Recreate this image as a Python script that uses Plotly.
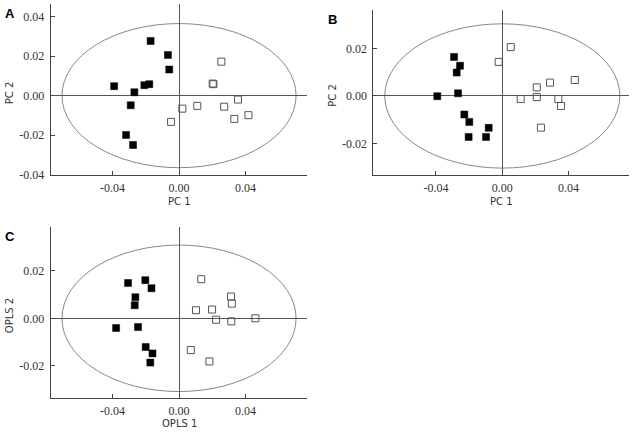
import plotly.graph_objects as go

# ---------------- data ----------------
# Panel A (PCA)
a_filled_x = [-0.0171, -0.0067, -0.0059, -0.0391, -0.0269, -0.0209, -0.0179, -0.0291, -0.0319, -0.0277]
a_filled_y = [0.0277, 0.0206, 0.0132, 0.0048, 0.0017, 0.0053, 0.0058, -0.0049, -0.0199, -0.0250]
a_open_x = [0.0255, 0.0203, 0.0207, 0.0355, 0.0020, 0.0110, 0.0272, -0.0048, 0.0333, 0.0418]
a_open_y = [0.0172, 0.0061, 0.0058, -0.0020, -0.0066, -0.0052, -0.0056, -0.0133, -0.0118, -0.0099]
a_ellipse = (0.0705, 0.0365)

# Panel B (PCA)
b_filled_x = [-0.0291, -0.0255, -0.0275, -0.0392, -0.0267, -0.0229, -0.0199, -0.0203, -0.0098, -0.0082]
b_filled_y = [0.0164, 0.0127, 0.0098, -0.0001, 0.0011, -0.0078, -0.0109, -0.0172, -0.0172, -0.0134]
b_open_x = [0.0051, -0.0022, 0.0208, 0.0288, 0.0437, 0.0111, 0.0208, 0.0338, 0.0354, 0.0233]
b_open_y = [0.0205, 0.0143, 0.0036, 0.0056, 0.0067, -0.0013, -0.0005, -0.0013, -0.0042, -0.0133]
b_ellipse = (0.0709, 0.0303)

# Panel C (OPLS)
c_filled_x = [-0.0307, -0.0203, -0.0166, -0.0263, -0.0267, -0.0379, -0.0247, -0.0201, -0.0160, -0.0173]
c_filled_y = [0.0149, 0.0161, 0.0127, 0.0089, 0.0055, -0.0041, -0.0037, -0.0121, -0.0148, -0.0187]
c_open_x = [0.0134, 0.0102, 0.0199, 0.0313, 0.0318, 0.0223, 0.0315, 0.0460, 0.0071, 0.0183]
c_open_y = [0.0165, 0.0034, 0.0037, 0.0092, 0.0062, -0.0006, -0.0013, 0.0000, -0.0134, -0.0182]
c_ellipse = (0.0705, 0.0309)

x_tick_vals = [-0.04, 0.0, 0.04]
x_tick_text = ["-0.04", "0.00", "0.04"]
a_y_tick_vals = [-0.04, -0.02, 0.0, 0.02, 0.04]
a_y_tick_text = ["-0.04", "-0.02", "0.00", "0.02", "0.04"]
bc_y_tick_vals = [-0.02, 0.0, 0.02]
bc_y_tick_text = ["-0.02", "0.00", "0.02"]

panel_labels = ["A", "B", "C"]
x_titles = ["PC 1", "PC 1", "OPLS 1"]
y_titles = ["PC 2", "PC 2", "OPLS 2"]

# ---------------- figure ----------------
W, H = 637, 433
fig = go.Figure()

panels = [
    dict(fx=a_filled_x, fy=a_filled_y, ox=a_open_x, oy=a_open_y, ell=a_ellipse,
         xr=[-0.0773, 0.0769], yr=[-0.0402, 0.0464], yt=(a_y_tick_vals, a_y_tick_text),
         xd=[50.7, 306.7], yd=[4, 175]),
    dict(fx=b_filled_x, fy=b_filled_y, ox=b_open_x, oy=b_open_y, ell=b_ellipse,
         xr=[-0.0778, 0.0766], yr=[-0.0332, 0.0361], yt=(bc_y_tick_vals, bc_y_tick_text),
         xd=[373.3, 629.3], yd=[10, 175]),
    dict(fx=c_filled_x, fy=c_filled_y, ox=c_open_x, oy=c_open_y, ell=c_ellipse,
         xr=[-0.0773, 0.0769], yr=[-0.0335, 0.0384], yt=(bc_y_tick_vals, bc_y_tick_text),
         xd=[50.7, 306.7], yd=[227.3, 397.7]),
]

tick_font = dict(family="Liberation Serif", size=12, color="#333333")
title_font = dict(family="DejaVu Sans", size=10, color="#333333")
axis_color = "#444444"

shapes = []
annotations = []
for i, p in enumerate(panels):
    n = "" if i == 0 else str(i + 1)
    xa, ya = "x" + n, "y" + n
    fig.add_trace(go.Scatter(x=p["fx"], y=p["fy"], mode="markers", xaxis=xa, yaxis=ya,
                             marker=dict(symbol="square", size=7, color="black",
                                         line=dict(color="black", width=0.5)),
                             showlegend=False, hoverinfo="skip"))
    fig.add_trace(go.Scatter(x=p["ox"], y=p["oy"], mode="markers", xaxis=xa, yaxis=ya,
                             marker=dict(symbol="square-open", size=7, color="#555555",
                                         line=dict(width=1)),
                             showlegend=False, hoverinfo="skip"))
    ax, ay = p["ell"]
    shapes.append(dict(type="circle", xref=xa, yref=ya, x0=-ax, x1=ax, y0=-ay, y1=ay,
                       line=dict(color="#888888", width=1), layer="below"))
    xdom = [p["xd"][0] / W, p["xd"][1] / W]
    ydom = [1 - p["yd"][1] / H, 1 - p["yd"][0] / H]
    common = dict(showgrid=False, showline=True, linecolor=axis_color, linewidth=1,
                  ticks="inside", ticklen=4, tickcolor=axis_color, tickfont=tick_font,
                  zeroline=True, zerolinecolor="#555555", zerolinewidth=1, mirror=False,
                  automargin=False)
    fig.layout["xaxis" + n] = dict(domain=xdom, range=p["xr"], anchor=ya,
                                   tickmode="array", tickvals=x_tick_vals, ticktext=x_tick_text,
                                   ticklabelstandoff=2, **common)
    fig.layout["yaxis" + n] = dict(domain=ydom, range=p["yr"], anchor=xa,
                                   tickmode="array", tickvals=p["yt"][0], ticktext=p["yt"][1],
                                   ticklabelstandoff=3, **common)
    # panel letter
    annotations.append(dict(text="<b>%s</b>" % panel_labels[i], xref="paper", yref="paper",
                            x=(p["xd"][0] - 41) / W, y=1 - (p["yd"][0] + 9.5) / H,
                            showarrow=False, xanchor="center", yanchor="middle",
                            font=dict(family="Liberation Sans", size=13, color="black")))
    # axis titles
    annotations.append(dict(text=x_titles[i], xref="paper", yref="paper",
                            x=(p["xd"][0] + 128.5) / W, y=1 - (p["yd"][1] + 26) / H,
                            showarrow=False, xanchor="center", yanchor="middle",
                            font=title_font))
    annotations.append(dict(text=y_titles[i], xref="paper", yref="paper",
                            x=(p["xd"][0] - 41) / W, y=1 - ((p["yd"][0] + p["yd"][1]) / 2 + 3) / H,
                            showarrow=False, xanchor="center", yanchor="middle", textangle=-90,
                            font=title_font))

fig.update_layout(width=W, height=H, margin=dict(l=0, r=0, t=0, b=0),
                  paper_bgcolor="white", plot_bgcolor="white",
                  shapes=shapes, annotations=annotations, showlegend=False)

fig.write_html("out.html", config={"displayModeBar": False},
               post_script="document.body.style.margin='0px';document.body.style.overflow='hidden';")
